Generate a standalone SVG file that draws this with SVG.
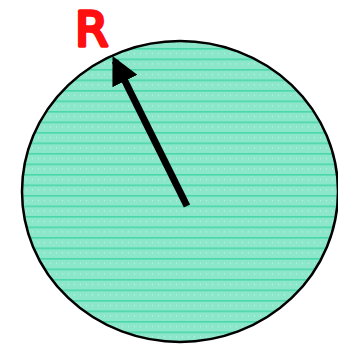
<svg xmlns="http://www.w3.org/2000/svg" width="338" height="345" viewBox="0 0 338 345">
<defs>
<pattern id="hatch" patternUnits="userSpaceOnUse" x="0" y="153" width="6" height="10.5">
<rect width="6" height="10.5" fill="#8ce6c9"/>
<rect y="0" width="6" height="1.6" fill="#4ad8a8"/>
<rect x="2" y="5" width="1" height="1" fill="#d0f5e8"/>
</pattern>
<marker id="ah" viewBox="0 0 10 10" refX="8" refY="5" markerWidth="4" markerHeight="4" orient="auto" markerUnits="strokeWidth">
<path d="M0,0 L10,5 L0,10 z" fill="#000"/>
</marker>
</defs>
<g id="circle">
<ellipse cx="180" cy="191.5" rx="158" ry="150.5" fill="url(#hatch)" stroke="#000" stroke-width="2.5"/>
</g>
<g id="connectors">
<line x1="187" y1="206" x2="115" y2="61" stroke="#000" stroke-width="7" marker-end="url(#ah)"/>
</g>
<g id="label">
<text x="75" y="46" font-family="'DejaVu Sans', sans-serif" font-size="48" fill="#ff1010" stroke="#ff1010" stroke-width="3.5" stroke-linejoin="round">R</text>
</g>
</svg>
